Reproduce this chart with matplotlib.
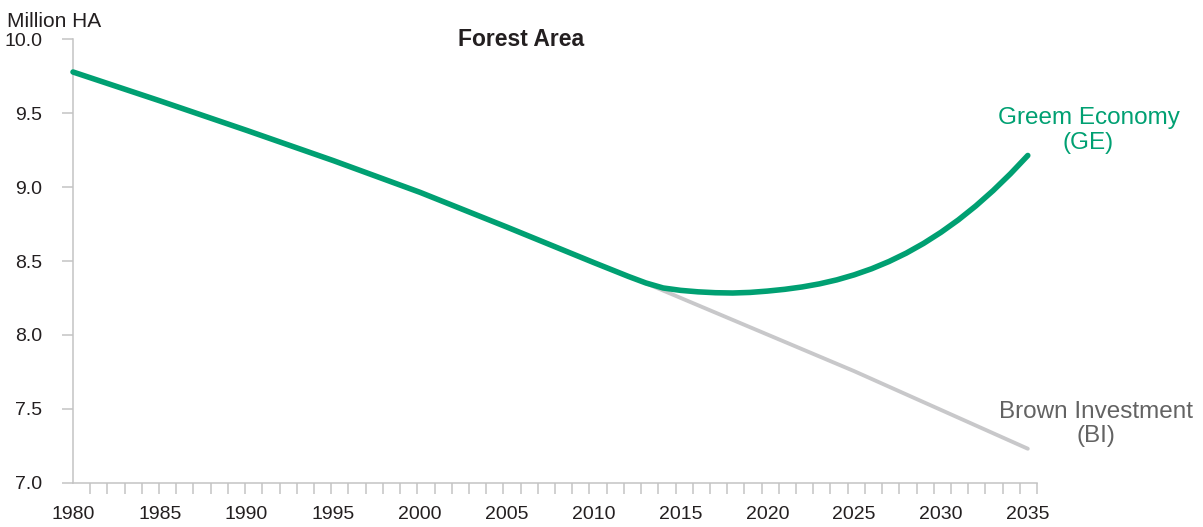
import numpy as np
import matplotlib
matplotlib.use("Agg")
import matplotlib.pyplot as plt
from matplotlib import font_manager

# ---- data ----
ge_years = [1980, 1985, 1990, 1995, 2000, 2005, 2010, 2011, 2012, 2013, 2014, 2015,
            2016, 2017, 2018, 2019, 2020, 2021, 2022, 2023, 2024, 2025, 2026, 2027,
            2028, 2029, 2030, 2031, 2032, 2033, 2034, 2035]
ge_values = [9.78, 9.585, 9.385, 9.18, 8.965, 8.73, 8.49, 8.443, 8.396, 8.352, 8.318, 8.302,
             8.292, 8.286, 8.284, 8.288, 8.297, 8.309, 8.325, 8.346, 8.373, 8.407, 8.448, 8.497,
             8.554, 8.620, 8.695, 8.779, 8.873, 8.977, 9.091, 9.215]
bi_years = [2013, 2025, 2035]
bi_values = [8.35, 7.755, 7.23]
x_tick_years = [1980, 1985, 1990, 1995, 2000, 2005, 2010, 2015, 2020, 2025, 2030, 2035]
y_ticks = [7.0, 7.5, 8.0, 8.5, 9.0, 9.5, 10.0]

GREEN = "#00a072"
GRAY_LINE = "#c8c8ca"
GRAY_TEXT = "#636363"
DARK = "#231f20"
SPINE = "#c3c3c3"

avail = {f.name for f in font_manager.fontManager.ttflist}
regular = "Liberation Sans" if "Liberation Sans" in avail else "DejaVu Sans"

fig = plt.figure(figsize=(12.03, 5.27), dpi=100)
W, H = 1203, 527
x0, x1, ytop, ybot = 73, 1037, 39.5, 482.7
ax = fig.add_axes([x0 / W, 1 - ybot / H, (x1 - x0) / W, (ybot - ytop) / H])

xmax = 1980 + (x1 - x0) / 17.36
ax.set_xlim(1980, xmax)
ax.set_ylim(7.0, 10.0)

ax.plot(bi_years, bi_values, color=GRAY_LINE, lw=2.8, solid_capstyle="round", zorder=2, clip_on=False)
ax.plot(ge_years, ge_values, color=GREEN, lw=4.0, solid_capstyle="round",
        solid_joinstyle="round", zorder=3, clip_on=False)

for s in ["top", "right"]:
    ax.spines[s].set_visible(False)
for s in ["left", "bottom"]:
    ax.spines[s].set_color(SPINE)
    ax.spines[s].set_linewidth(1.1)

ax.set_yticks(y_ticks)
ax.set_yticklabels([f"{v:.1f}" for v in y_ticks], fontfamily=regular, fontsize=14, color=DARK)
ax.tick_params(axis="y", length=8, width=1.1, color=SPINE, pad=14)

ax.set_xticks(x_tick_years)
ax.set_xticklabels([str(v) for v in x_tick_years], fontfamily=regular, fontsize=14, color=DARK)
ax.set_xticks(np.linspace(1980, xmax, 57), minor=True)
ax.tick_params(axis="x", which="major", length=0, pad=17)
ax.tick_params(axis="x", which="minor", length=8, width=1.1, color=SPINE)

fig.text(7 / W, 1 - 27 / H, "Million HA", fontfamily=regular, fontsize=15, color=DARK,
         ha="left", va="baseline")
fig.text(521 / W, 1 - 46 / H, "Forest Area", fontfamily=regular, fontweight="bold",
         fontsize=16.5, color=DARK, ha="center", va="baseline")

ax.text(2038.5, 9.54, "Greem Economy\n(GE)", fontfamily=regular, fontsize=17.5, color=GREEN,
        ha="center", va="top", multialignment="center", linespacing=1.15, clip_on=False)
ax.text(2038.9, 7.555, "Brown Investment\n(BI)", fontfamily=regular, fontsize=17.5, color=GRAY_TEXT,
        ha="center", va="top", multialignment="center", linespacing=1.15, clip_on=False)

fig.savefig("out.png", dpi=100)
